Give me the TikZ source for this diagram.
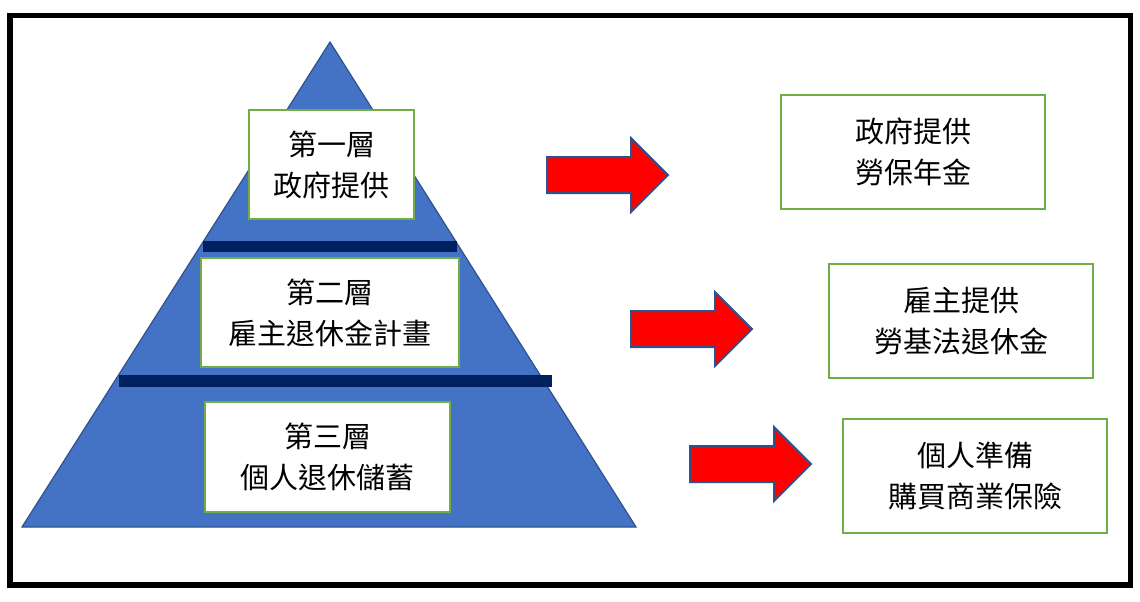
\documentclass[tikz,border=0pt]{standalone}
\usepackage{fontspec}
\newfontfamily\cjk{Noto Sans CJK TC}
\usepackage{xcolor}
\usetikzlibrary{calc}
\definecolor{pyramid}{HTML}{4472C4}
\definecolor{edge}{HTML}{2F528F}
\definecolor{bar}{HTML}{002060}
\definecolor{leaf}{HTML}{70AD47}
% block arrow: tail centre, shaft 84, head 37
\newcommand{\pusharrow}[1]{%
 \draw[push] (#1) ++(0,-18) -- ++(84,0) -- ++(0,-19) -- ++(37,37)
 -- ++(-37,37) -- ++(0,-19) -- ++(-84,0) -- cycle;}

\begin{document}
\begin{tikzpicture}[x=0.5pt,y=-0.5pt,
 tier/.style={draw=leaf,line width=1.3pt,fill=white,align=center,inner sep=0pt,
 font=\cjk\fontsize{14.5}{20.5}\selectfont},
 push/.style={draw=edge,line width=1pt,fill=red,line join=miter}]
 \useasboundingbox (0,0) rectangle (1140,601);
 \fill[white] (0,0) rectangle (1140,601);
 \draw[line width=2.8pt] (10,15.5) rectangle (1130.5,585);

 % pyramid
 \draw[fill=pyramid,draw=edge,line width=0.6pt] (330,42) -- (636,527) -- (22,527) -- cycle;
 \fill[bar] (203,241) rectangle (457,252);
 \fill[bar] (119,375) rectangle (552,387);

 \node[tier,minimum width=82.5pt,minimum height=54.5pt] (t1) at (331.5,164.5) {第一層\\政府提供};
 \node[tier,minimum width=129pt,minimum height=54.5pt] (t2) at (330,312.5) {第二層\\雇主退休金計畫};
 \node[tier,minimum width=122.5pt,minimum height=55pt] (t3) at (327.5,457) {第三層\\個人退休儲蓄};

 % arrows
 \coordinate (a1) at (547,175);
 \coordinate (a2) at (631,329);
 \coordinate (a3) at (690,464);
 \pusharrow{a1}
 \pusharrow{a2}
 \pusharrow{a3}

 \node[tier,minimum width=132pt,minimum height=57pt] (r1) at (913,152) {政府提供\\勞保年金};
 \node[tier,minimum width=132pt,minimum height=57pt] (r2) at (961,321) {雇主提供\\勞基法退休金};
 \node[tier,minimum width=132pt,minimum height=57pt] (r3) at (975,476) {個人準備\\購買商業保險};
\end{tikzpicture}
\end{document}
